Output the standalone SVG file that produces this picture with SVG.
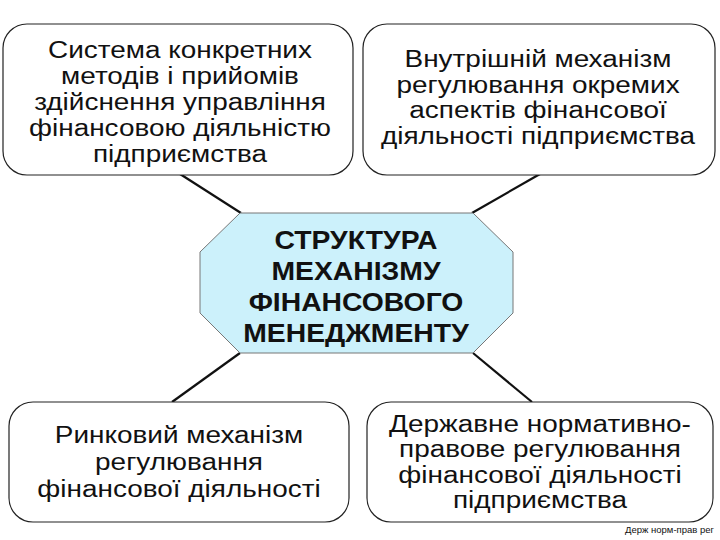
<svg xmlns="http://www.w3.org/2000/svg" width="720" height="540" viewBox="0 0 720 540">
<style>
.box{fill:#fff;stroke:#222;stroke-width:1.2}
.oct{fill:#ccf1fb;stroke:#777;stroke-width:1}
.t{font-family:"Liberation Sans",Arial,sans-serif;font-size:24.5px;fill:#111;text-anchor:middle}
.b{font-family:"Liberation Sans",Arial,sans-serif;font-size:26px;font-weight:bold;fill:#111;text-anchor:middle}
.s{font-family:"Liberation Sans",Arial,sans-serif;font-size:9.5px;fill:#111;text-anchor:end}
.c{stroke:#111;stroke-width:2.2;fill:none}
</style>
<rect width="720" height="540" fill="#fff"/>
<g id="connectors">
<line class="c" x1="180" y1="174" x2="241" y2="213"/>
<line class="c" x1="540" y1="174" x2="472" y2="213"/>
<line class="c" x1="240" y1="353" x2="172" y2="402"/>
<line class="c" x1="473" y1="353" x2="532" y2="402"/>
</g>
<g id="n1">
<rect class="box" x="3" y="24" width="350" height="151" rx="24"/>
<g transform="translate(180 0) scale(1.14 1)">
<text class="t" x="0" y="58">Система конкретних</text>
<text class="t" x="0" y="84">методів і прийомів</text>
<text class="t" x="0" y="110">здійснення управління</text>
<text class="t" x="0" y="136">фінансовою діяльністю</text>
<text class="t" x="0" y="162">підприємства</text>
</g>
</g>
<g id="n2">
<rect class="box" x="363" y="24" width="352" height="151" rx="24"/>
<g transform="translate(538 0) scale(1.14 1)">
<text class="t" x="0" y="67">Внутрішній механізм</text>
<text class="t" x="0" y="93">регулювання окремих</text>
<text class="t" x="0" y="118.5">аспектів фінансової</text>
<text class="t" x="0" y="144">діяльності підприємства</text>
</g>
</g>
<g id="center">
<polygon class="oct" points="240,213 473,213 513,252 513,313 473,353 240,353 200,313 200,252"/>
<g transform="translate(356 0) scale(1.09 1)">
<text class="b" x="0" y="249">СТРУКТУРА</text>
<text class="b" x="0" y="280">МЕХАНІЗМУ</text>
<text class="b" x="0" y="311">ФІНАНСОВОГО</text>
<text class="b" x="0" y="342">МЕНЕДЖМЕНТУ</text>
</g>
</g>
<g id="n3">
<rect class="box" x="9" y="402" width="340" height="120" rx="24"/>
<g transform="translate(179 0) scale(1.14 1)">
<text class="t" x="0" y="443">Ринковий механізм</text>
<text class="t" x="0" y="470">регулювання</text>
<text class="t" x="0" y="497">фінансової діяльності</text>
</g>
</g>
<g id="n4">
<rect class="box" x="367" y="402" width="346" height="120" rx="24"/>
<g transform="translate(540 0) scale(1.14 1)">
<text class="t" x="0" y="432">Державне нормативно-</text>
<text class="t" x="0" y="457.5">правове регулювання</text>
<text class="t" x="0" y="483">фінансової діяльності</text>
<text class="t" x="0" y="508.5">підприємства</text>
</g>
</g>
<text class="s" x="714" y="533">Держ норм-прав рег</text>
</svg>
